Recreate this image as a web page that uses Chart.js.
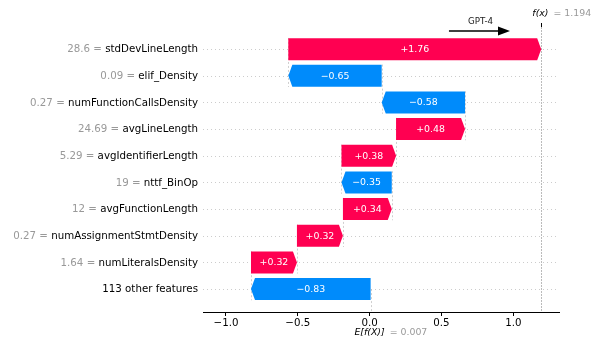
<!DOCTYPE html>
<html>
<head>
<meta charset="utf-8">
<script src="https://cdn.jsdelivr.net/npm/chart.js@4.4.1/dist/chart.umd.min.js"></script>
<style>
  html, body { margin: 0; padding: 0; background: #fff; }
  #wrap { width: 594px; height: 342px; }
</style>
</head>
<body>
<div id="wrap"><canvas id="waterfall" width="594" height="342"></canvas></div>
<script>
'use strict';

// values (top row first)
let featureNames = ['stdDevLineLength', 'elif_Density', 'numFunctionCallsDensity', 'avgLineLength',
  'avgIdentifierLength', 'nttf_BinOp', 'avgFunctionLength', 'numAssignmentStmtDensity',
  'numLiteralsDensity', '113 other features'];
let featureValues = ['28.6', '0.09', '0.27', '24.69', '5.29', '19', '12', '0.27', '1.64', ''];
let shapValues = [1.76, -0.65, -0.58, 0.48, 0.38, -0.35, 0.34, 0.32, 0.32, -0.833];
let baseValue = 0.007;
let outputValue = 1.194;
let xTickValues = [-1.0, -0.5, 0.0, 0.5, 1.0];
let modelName = 'GPT-4';

let positiveColor = '#ff0051';
let negativeColor = '#008bfb';
let labelFont = '10.25px "DejaVu Sans"';
let barFont = '9.4px "DejaVu Sans"';

// build the floating bars, bottom row starts at the base value
let barRanges = [];
let runningTotal = baseValue;
for (let i = shapValues.length - 1; i >= 0; i--) {
  barRanges[i] = [runningTotal, runningTotal + shapValues[i]];
  runningTotal += shapValues[i];
}

let barData = barRanges.map((r, i) => ({ x: r, y: i }));

function formatShap(v) {
  return (v < 0 ? '\u2212' : '+') + Math.abs(v).toFixed(2);
}

// grid, connectors and reference lines go under the bars
let underlayPlugin = {
  id: 'underlay',
  beforeDatasetsDraw(chart) {
    let ctx = chart.ctx;
    let area = chart.chartArea;
    let xScale = chart.scales.x;
    let yScale = chart.scales.y;
    ctx.save();

    // dotted row lines
    ctx.strokeStyle = '#cccccc';
    ctx.lineWidth = 1;
    ctx.setLineDash([1, 3]);
    for (let i = 0; i < featureNames.length; i++) {
      let y = Math.round(yScale.getPixelForValue(i)) + 0.5;
      ctx.beginPath();
      ctx.moveTo(area.left, y);
      ctx.lineTo(area.right, y);
      ctx.stroke();
    }

    // connectors between consecutive bars
    ctx.strokeStyle = '#bbbbbb';
    ctx.setLineDash([2, 2]);
    ctx.lineWidth = 0.7;
    for (let i = 0; i < featureNames.length - 1; i++) {
      let x = Math.round(xScale.getPixelForValue(barRanges[i][0])) + 0.5;
      ctx.beginPath();
      ctx.moveTo(x, yScale.getPixelForValue(i - 0.42));
      ctx.lineTo(x, yScale.getPixelForValue(i + 1.42));
      ctx.stroke();
    }

    // base value line under the last bar
    let last = featureNames.length - 1;
    let bx = Math.round(xScale.getPixelForValue(baseValue)) + 0.5;
    ctx.beginPath();
    ctx.moveTo(bx, yScale.getPixelForValue(last));
    ctx.lineTo(bx, area.bottom);
    ctx.stroke();

    // output value line
    ctx.setLineDash([2, 1]);
    ctx.lineWidth = 1;
    let fx = Math.round(xScale.getPixelForValue(outputValue)) + 0.5;
    ctx.beginPath();
    ctx.moveTo(fx, area.top);
    ctx.lineTo(fx, area.bottom);
    ctx.stroke();
    ctx.restore();
  }
};

// arrow shaped bars, labels and annotations
let overlayPlugin = {
  id: 'overlay',
  afterDatasetsDraw(chart) {
    let ctx = chart.ctx;
    let xScale = chart.scales.x;
    let meta = chart.getDatasetMeta(0);
    ctx.save();
    meta.data.forEach((bar, i) => {
      let props = bar.getProps(['y', 'height'], true);
      let s = xScale.getPixelForValue(barRanges[i][0]);
      let e = xScale.getPixelForValue(barRanges[i][1]);
      let dir = e >= s ? 1 : -1;
      let head = Math.min(4, Math.abs(e - s));
      let neck = e - dir * head;
      let top = props.y - props.height / 2;
      let bottom = props.y + props.height / 2;
      ctx.fillStyle = dir > 0 ? positiveColor : negativeColor;
      ctx.beginPath();
      ctx.moveTo(s, top);
      ctx.lineTo(neck, top);
      ctx.lineTo(e, props.y);
      ctx.lineTo(neck, bottom);
      ctx.lineTo(s, bottom);
      ctx.closePath();
      ctx.fill();

      ctx.fillStyle = '#ffffff';
      ctx.font = barFont;
      ctx.textAlign = 'center';
      ctx.textBaseline = 'middle';
      ctx.fillText(formatShap(shapValues[i]), (s + e) / 2, props.y + 0.5);
    });
    ctx.restore();
  },
  afterDraw(chart) {
    let ctx = chart.ctx;
    let area = chart.chartArea;
    let xScale = chart.scales.x;
    let yScale = chart.scales.y;
    ctx.save();

    // feature labels: grey value, black name
    ctx.font = labelFont;
    ctx.textBaseline = 'middle';
    ctx.textAlign = 'right';
    let labelRight = area.left - 5;
    for (let i = 0; i < featureNames.length; i++) {
      let y = yScale.getPixelForValue(i) + 0.5;
      ctx.fillStyle = '#000000';
      ctx.fillText(featureNames[i], labelRight, y);
      if (featureValues[i] !== '') {
        let w = ctx.measureText(featureNames[i]).width;
        ctx.fillStyle = '#999999';
        ctx.fillText(featureValues[i] + ' = ', labelRight - w, y);
      }
    }

    // f(x) tick and label on top
    let fx = Math.round(xScale.getPixelForValue(outputValue)) + 0.5;
    ctx.strokeStyle = '#000000';
    ctx.lineWidth = 1;
    ctx.beginPath();
    ctx.moveTo(fx, area.top - 4);
    ctx.lineTo(fx, area.top);
    ctx.stroke();

    ctx.font = 'italic 9.4px "DejaVu Sans"';
    ctx.textAlign = 'right';
    ctx.fillStyle = '#000000';
    ctx.fillText('f(x)', fx + 7, 14);
    ctx.font = barFont;
    ctx.textAlign = 'left';
    ctx.fillStyle = '#999999';
    ctx.fillText('= ' + outputValue.toFixed(3), fx + 12, 14);

    // E[f(X)] label under the axis
    let bx = xScale.getPixelForValue(baseValue);
    ctx.font = 'italic 9.4px "DejaVu Sans"';
    ctx.textAlign = 'right';
    ctx.fillStyle = '#000000';
    ctx.fillText('E[f(X)]', bx + 14, 333);
    ctx.font = barFont;
    ctx.textAlign = 'left';
    ctx.fillStyle = '#999999';
    ctx.fillText('= ' + baseValue.toFixed(3), bx + 19, 333);

    // model arrow
    let ax0 = xScale.getPixelForValue(0.552);
    let ax1 = xScale.getPixelForValue(0.977);
    let ay = 31;
    ctx.strokeStyle = '#000000';
    ctx.fillStyle = '#000000';
    ctx.lineWidth = 1.5;
    ctx.beginPath();
    ctx.moveTo(ax0, ay);
    ctx.lineTo(ax1 - 10, ay);
    ctx.stroke();
    ctx.beginPath();
    ctx.moveTo(ax1 - 12, ay - 4.5);
    ctx.lineTo(ax1, ay);
    ctx.lineTo(ax1 - 12, ay + 4.5);
    ctx.closePath();
    ctx.fill();
    ctx.font = '8.7px "DejaVu Sans"';
    ctx.textAlign = 'center';
    ctx.fillStyle = '#222222';
    ctx.fillText(modelName, (ax0 + ax1) / 2 + 1, 22);
    ctx.restore();
  }
};

let ctx = document.getElementById('waterfall');

let chartObject = {
  type: 'bar',
  data: {
    datasets: [{
      data: barData,
      backgroundColor: 'rgba(0,0,0,0)',
      borderWidth: 0,
      barThickness: 22
    }]
  },
  options: {
    indexAxis: 'y',
    responsive: false,
    animation: false,
    devicePixelRatio: 1,
    layout: {
      padding: { top: 27, left: 203, right: 35, bottom: 0 }
    },
    scales: {
      x: {
        type: 'linear',
        min: -1.16,
        max: 1.318,
        afterBuildTicks: scale => {
          scale.ticks = xTickValues.map(v => ({ value: v }));
        },
        afterFit: scale => {
          scale.height = 30;
        },
        ticks: {
          color: '#000000',
          padding: 1,
          font: { family: 'DejaVu Sans', size: 10.25 },
          callback: v => (v < 0 ? '\u2212' : '') + Math.abs(v).toFixed(1)
        },
        grid: {
          drawOnChartArea: false,
          drawTicks: true,
          tickLength: 4,
          tickColor: '#000000'
        },
        border: { display: true, color: '#000000', width: 1 }
      },
      y: {
        type: 'linear',
        reverse: true,
        offset: false,
        min: -0.83,
        max: 9.86,
        display: false
      }
    },
    plugins: {
      legend: { display: false },
      tooltip: { enabled: false }
    }
  },
  plugins: [underlayPlugin, overlayPlugin]
};

const waterfallChart = new Chart(ctx, chartObject);
</script>
</body>
</html>
